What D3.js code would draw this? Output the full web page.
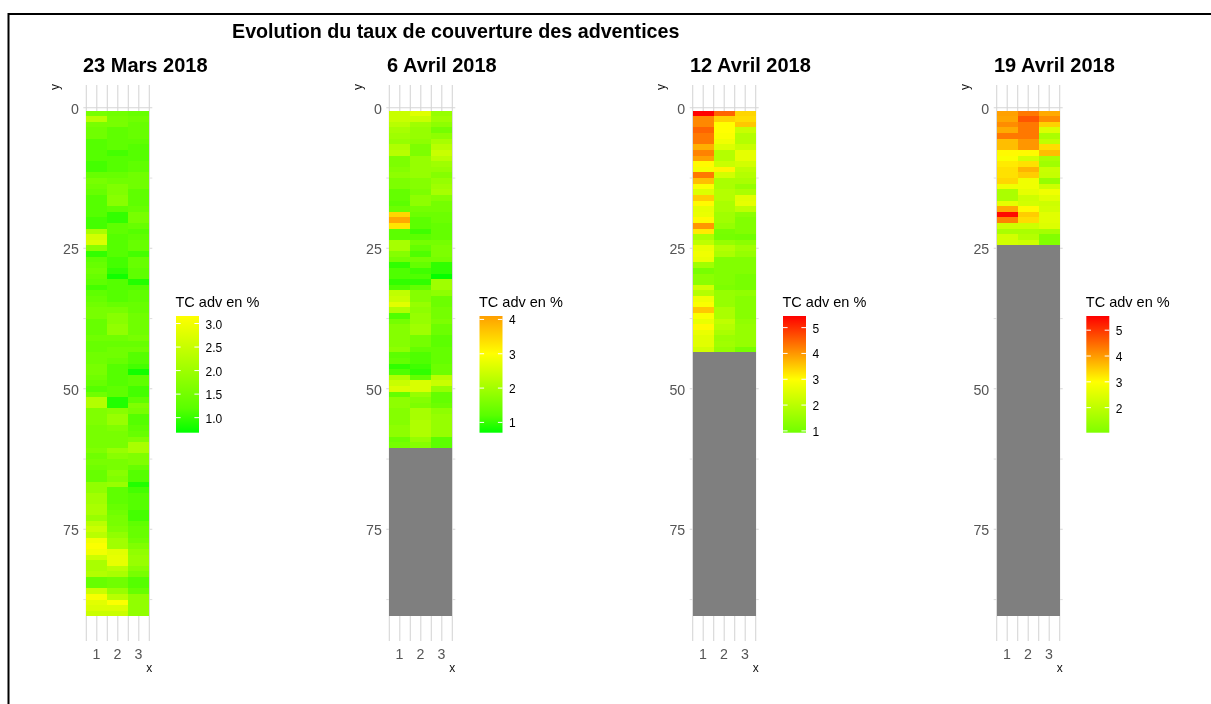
<!DOCTYPE html>
<html><head><meta charset="utf-8">
<script src="https://cdn.jsdelivr.net/npm/d3@7"></script>
<style>html,body{margin:0;background:#fff}svg{display:block;filter:blur(0.35px)}text{font-family:"Liberation Sans",Arial,sans-serif}</style>
</head><body><svg id="c" width="1211" height="704"></svg>
<script>
const mainTitle = "Evolution du taux de couverture des adventices";
const panelTitles = ["23 Mars 2018","6 Avril 2018","12 Avril 2018","19 Avril 2018"];
const legendTitle = "TC adv en %";
const xTicks = [1,2,3];
const yTicks = [0,25,50,75];
const yMinor = [12.5,37.5,62.5,87.5];
const xGrid = [0.5,1,1.5,2,2.5,3,3.5];
const rowCount = 90;
const legendTicks = [[1.0,1.5,2.0,2.5,3.0],[1,2,3,4],[1,2,3,4,5],[2,3,4,5]];
const legendFormat = [".1f","d","d","d"];
const colorDomains = [[0.68,1.2,3.16],[0.70,1.2,3,4.1],[0.93,3,5.45],[1.03,3,5.55]];
const colorRanges = [["#00ff00","#5aff00","#ffff00"],["#00ff00","#58ff00","#ffff00","#ff9f00"],["#70ff00","#ffff00","#ff0000"],["#7fff00","#ffff00","#ff0000"]];
const naColor = "#7f7f7f";

const mars23 = [
[1.55,1.46,1.36],[2.3,1.55,1.46],[1.56,1.56,1.36],[1.46,1.26,1.36],[1.46,1.26,1.36],[1.17,1.26,1.26],[1.17,1.26,1.17],[1.17,1.07,1.17],[1.17,1.17,1.17],[1.07,1.17,1.26],
[1.07,1.17,1.26],[1.36,1.36,1.46],[1.56,1.46,1.46],[1.46,1.65,1.46],[1.36,1.65,1.26],[1.17,1.75,1.26],[1.17,1.75,1.26],[1.17,1.26,1.36],[1.17,0.97,1.56],[1.07,0.97,1.56],
[1.07,1.26,1.36],[2.14,1.26,1.17],[2.63,1.17,1.26],[2.72,1.17,1.36],[1.75,1.17,1.36],[0.97,1.17,1.07],[1.26,1.07,1.36],[1.36,1.07,1.36],[1.46,0.97,1.26],[1.36,0.78,1.26],
[1.26,1.17,0.87],[1.07,1.17,1.17],[1.26,1.17,1.26],[1.36,1.17,1.26],[1.46,1.36,1.36],[1.56,1.56,1.36],[1.56,1.75,1.46],[1.36,1.75,1.46],[1.36,1.85,1.46],[1.36,1.85,1.46],
[1.46,1.46,1.56],[1.36,1.36,1.36],[1.36,1.46,1.46],[1.46,1.46,1.17],[1.46,1.36,1.17],[1.56,1.17,1.07],[1.56,1.17,0.78],[1.46,1.17,1.26],[1.36,1.17,1.26],[1.17,1.26,1.07],
[1.46,1.26,1.07],[2.24,0.87,1.26],[2.24,0.87,1.65],[1.65,1.75,1.56],[1.65,1.94,1.17],[1.65,1.94,1.17],[1.56,1.65,1.26],[1.56,1.56,1.36],[1.56,1.56,1.65],[1.56,1.56,2.14],
[1.65,1.94,2.14],[1.46,1.75,1.65],[1.56,1.56,1.65],[1.46,1.56,1.36],[1.36,1.75,1.17],[1.36,1.65,1.17],[1.85,1.94,0.87],[1.85,1.26,1.07],[2.04,1.26,1.17],[2.04,1.26,1.17],
[2.14,1.36,1.17],[2.14,1.46,1.07],[1.94,1.56,1.07],[2.33,1.56,1.26],[2.53,1.65,1.36],[2.33,1.85,1.36],[3.0,2.04,1.46],[3.11,2.04,1.65],[3.0,2.82,1.85],[2.53,2.87,1.94],
[2.14,2.87,1.94],[2.14,2.33,1.75],[2.24,2.14,1.56],[1.36,1.46,1.17],[1.36,1.46,1.17],[2.53,1.94,1.36],[3.06,2.33,1.85],[2.82,3.11,1.85],[2.72,2.72,1.85],[2.53,2.53,1.85]];

const avril6 = [
[2.41,2.64,1.87],[2.41,2.41,1.96],[2.23,1.96,1.78],[2.05,1.87,1.51],[1.96,1.87,1.78],[1.87,1.78,2.05],[2.14,1.6,2.23],[2.23,1.6,2.41],[1.6,1.87,2.23],[1.6,1.87,1.96],
[1.69,1.87,1.87],[1.78,1.87,1.69],[1.6,1.69,1.87],[1.6,1.69,1.96],[1.33,1.6,2.05],[1.33,1.78,1.69],[1.24,1.78,1.51],[1.42,1.51,1.51],[3.46,1.42,1.42],[4.0,1.24,1.42],
[3.3,1.24,1.33],[1.24,1.06,1.33],[1.24,1.24,1.33],[2.05,1.51,1.51],[2.05,1.33,1.6],[1.69,1.15,1.6],[1.51,1.51,1.51],[0.97,1.33,0.97],[1.15,1.06,0.97],[1.15,1.15,0.72],
[0.97,0.97,1.96],[1.15,1.33,1.96],[2.32,1.69,1.78],[2.41,1.69,1.42],[2.68,1.87,1.42],[2.14,1.78,1.51],[1.15,1.87,1.51],[1.51,1.87,1.6],[1.69,1.96,1.42],[1.69,1.96,1.42],
[1.69,1.51,1.24],[1.69,1.51,1.24],[1.78,1.33,1.33],[1.24,1.15,1.33],[1.33,1.15,1.33],[0.97,1.06,1.42],[1.15,0.97,1.42],[2.14,1.33,2.23],[2.41,2.59,2.41],[2.59,2.59,1.87],
[1.33,1.87,1.33],[1.78,1.69,1.33],[1.78,1.6,1.42],[1.69,2.05,1.78],[1.69,2.05,1.87],[1.69,2.14,1.87],[1.78,2.14,1.87],[1.78,2.14,1.87],[1.42,1.87,1.24],[1.51,1.69,1.24]];

const avril12 = [
[5.45,4.49,3.4],[4.14,3.43,3.33],[4.14,3.0,3.53],[4.49,3.0,2.21],[4.3,2.93,1.92],[4.3,2.79,1.92],[3.77,2.5,2.21],[4.2,1.92,2.64],[3.91,1.92,2.64],[3.05,2.21,2.35],
[2.86,3.1,2.06],[4.3,2.35,1.92],[3.62,1.77,1.77],[2.93,1.77,1.48],[2.5,1.92,1.77],[3.48,1.92,2.57],[3.05,1.77,2.64],[2.64,1.77,2.06],[2.7,1.63,1.34],[3.05,1.63,1.19],
[4.0,1.48,1.19],[3.2,1.05,1.19],[1.77,1.0,0.95],[2.06,1.48,1.34],[2.7,1.92,1.63],[2.79,1.77,1.48],[2.7,1.19,1.19],[1.63,1.19,1.19],[1.05,1.19,1.19],[1.34,1.19,1.05],
[1.34,1.19,1.05],[2.35,1.12,1.05],[1.92,1.48,1.41],[2.79,1.48,1.26],[2.93,1.48,1.26],[3.53,1.77,1.26],[2.93,1.77,1.26],[2.7,2.06,1.41],[3.05,1.92,1.48],[2.7,1.77,1.48],
[2.57,1.55,1.48],[2.57,1.63,1.48],[2.35,1.48,1.05]];

const avril19 = [
[3.95,4.35,3.85],[3.9,4.7,4.15],[4.15,4.35,3.45],[3.85,4.35,2.46],[4.35,4.35,1.69],[3.65,4.05,2.0],[3.65,4.05,3.35],[3.05,3.05,3.65],[2.92,2.31,1.69],[3.2,3.3,1.54],
[3.3,3.75,2.15],[3.3,3.5,2.1],[3.4,2.77,1.38],[2.77,2.77,2.23],[1.69,2.61,2.77],[1.69,2.23,2.54],[2.61,2.31,2.23],[3.85,3.05,2.31],[5.45,3.5,2.54],[4.25,3.35,2.54],
[2.23,2.23,2.46],[1.69,1.69,1.62],[2.31,1.85,1.08],[2.31,2.23,1.08]];

const panels = [mars23, avril6, avril12, avril19];
const panelLeft = [86.3,389.3,692.7,996.7];
const titleLeft = [83,387,690,994];
const legendLeft = [176,479.5,783,1086.3];
const svg = d3.select("#c");
svg.append("rect").attr("x",8.5).attr("y",14).attr("width",1220).attr("height",700).attr("fill","none").attr("stroke","#000").attr("stroke-width",2);
svg.append("text").attr("x",232).attr("y",37.5).attr("font-size",19.7).attr("font-weight","bold").attr("fill","#000").text(mainTitle);

const gridColor = "#d6d6d6", tickColor = "#555555";
panels.forEach((rows,p)=>{
  const L = panelLeft[p];
  const g = svg.append("g");
  const x = d3.scaleLinear().domain([0.5,3.5]).range([L,L+63]);
  const y = d3.scaleLinear().domain([0,90]).range([107.8,107.8+5.62*90]);
  const color = d3.scaleLinear().domain(colorDomains[p]).range(colorRanges[p]);
  g.append("text").attr("x",titleLeft[p]).attr("y",71.5).attr("font-size",20).attr("font-weight","bold").attr("fill","#000").text(panelTitles[p]);
  // grid
  g.selectAll(".v").data(xGrid).join("line").attr("x1",d=>x(d)).attr("x2",d=>x(d)).attr("y1",85).attr("y2",641).attr("stroke",gridColor).attr("stroke-width",1.1);
  g.selectAll(".h").data(yTicks.concat(yMinor)).join("line").attr("x1",x(0.5)-3).attr("x2",x(3.5)+3).attr("y1",d=>y(d)).attr("y2",d=>y(d)).attr("stroke",gridColor).attr("stroke-width",d=>yTicks.includes(d)?1.1:0.8);
  // cells, missing values in grey
  d3.range(1,rowCount+1).forEach(r=>{
    const vals = rows[r-1];
    [0,1,2].forEach(c=>{
      const v = vals? vals[c]: null;
      g.append("rect").attr("x",x(c+0.5)).attr("width",x(c+1.5)-x(c+0.5))
       .attr("y",y(r-0.5)).attr("height",y(r+0.5)-y(r-0.5))
       .attr("shape-rendering","crispEdges")
       .attr("fill", v==null? naColor : color(v));
    });
  });
  // axes
  const ya = g.append("g").attr("transform",`translate(${L-7.5},0.7)`).call(d3.axisLeft(y).tickValues(yTicks).tickSize(0).tickPadding(0));
  ya.select(".domain").remove();
  ya.selectAll("text").attr("font-size",14.2).attr("fill",tickColor).style("font-family",'"Liberation Sans"');
  const xa = g.append("g").attr("transform",`translate(-0.8,650)`).call(d3.axisBottom(x).tickValues(xTicks).tickSize(0).tickPadding(0).tickFormat(d3.format("d")));
  xa.select(".domain").remove();
  xa.selectAll("text").attr("font-size",14.2).attr("fill",tickColor).attr("dy","0.6em").style("font-family",'"Liberation Sans"');
  g.append("text").attr("x",L+63).attr("y",672).attr("text-anchor","middle").attr("font-size",12).attr("fill","#111").text("x");
  g.append("text").attr("transform",`translate(${L-27.5},87) rotate(-90)`).attr("text-anchor","middle").attr("font-size",12).attr("fill","#111").text("y");
  // legend
  const LX = legendLeft[p], LW=23, top=316, bot=432.7;
  g.append("text").attr("x",LX-0.5).attr("y",307).attr("font-size",14.5).attr("fill","#000").text(legendTitle);
  const ly = d3.scaleLinear().domain([colorDomains[p][0],colorDomains[p][colorDomains[p].length-1]]).range([bot,top]);
  const id = "lg"+p;
  const grad = svg.append("defs").append("linearGradient").attr("id",id).attr("x1",0).attr("x2",0).attr("y1",1).attr("y2",0);
  colorDomains[p].forEach(v=>grad.append("stop").attr("offset",(bot-ly(v))/(bot-top)).attr("stop-color",color(v)));
  g.append("rect").attr("x",LX).attr("y",top).attr("width",LW).attr("height",bot-top).attr("fill",`url(#${id})`);
  const fmt = d3.format(legendFormat[p]);
  legendTicks[p].forEach(t=>{
    g.append("line").attr("x1",LX).attr("x2",LX+4.6).attr("y1",ly(t)).attr("y2",ly(t)).attr("stroke","#fff").attr("stroke-width",1);
    g.append("line").attr("x1",LX+LW-4.6).attr("x2",LX+LW).attr("y1",ly(t)).attr("y2",ly(t)).attr("stroke","#fff").attr("stroke-width",1);
    g.append("text").attr("x",LX+LW+6.5).attr("y",ly(t)+5).attr("font-size",12).attr("fill","#000").text(fmt(t));
  });
});
</script></body></html>
